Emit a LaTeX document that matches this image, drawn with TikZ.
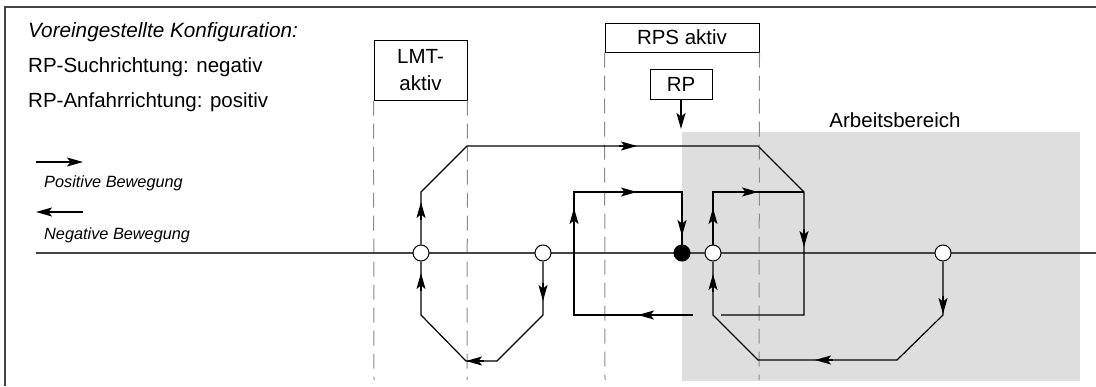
\documentclass[tikz,border=0pt]{standalone}
\usepackage{fontspec}
\setmainfont{Liberation Sans}
\usetikzlibrary{arrows.meta}
\definecolor{area}{HTML}{DEDEDE}
\definecolor{framegray}{HTML}{444444}
\definecolor{guidegray}{HTML}{8A8A8A}
\tikzset{
  big/.style={font=\fontsize{20.5}{27}\selectfont},
  small/.style={font=\fontsize{16.3}{19}\selectfont\itshape},
  txt/.style={anchor=west,inner sep=0pt},
  labelbox/.style={draw,line width=1pt,inner sep=0pt,align=center,big},
  guide/.style={draw=guidegray,line width=1pt,dash pattern=on 15pt off 8pt},
  loopline/.style={line width=1.2pt,line join=miter},
  arrowmark/.style={line width=1.2pt,-{Stealth[length=16pt,width=9pt,inset=3.5pt]}},
  pnt/.style={circle,draw,line width=1pt,fill=white,minimum size=16pt,inner sep=0pt},
  pntfull/.style={pnt,fill=black}
}
\begin{document}
\begin{tikzpicture}[x=1pt,y=-1pt]
\useasboundingbox (0,0) rectangle (1096,386);
% working area
\fill[area] (682,132) rectangle (1080,381);
\node[big,inner sep=0pt] (ab) at (895,120) {Arbeitsbereich};
% frame
\draw[framegray,line width=1.5pt] (5,386) -- (5,7) -- (1096,7);
% header texts
\node[txt,font=\fontsize{20.7}{27}\selectfont\itshape] (h1) at (28,32) {Voreingestellte Konfiguration:};
\node[txt,big] (h2) at (28,67) {RP-Suchrichtung: negativ};
\node[txt,big] (h3) at (28,102) {RP-Anfahrrichtung: positiv};
% legend
\coordinate (lp1) at (36,162); \coordinate (lp2) at (83,162);
\draw[arrowmark] (lp1) -- (lp2);
\node[txt,small] (lpt) at (44,183) {Positive Bewegung};
\coordinate (ln1) at (83,212); \coordinate (ln2) at (36,212);
\draw[arrowmark] (ln1) -- (ln2);
\node[txt,small] (lnt) at (44,235) {Negative Bewegung};
% boxes
\node[labelbox,minimum width=93pt,minimum height=60pt] (lmt) at (420.5,70) {LMT-\\aktiv};
\node[labelbox,minimum width=154pt,minimum height=29pt] (rps) at (682,37.5) {RPS aktiv};
\node[labelbox,minimum width=62pt,minimum height=30pt] (rpb) at (681,84) {RP};
% guide lines
\draw[guide] (lmt.south west) -- (374,380);
\draw[guide] (lmt.south east) -- (467,380);
\draw[guide] (rps.south west) -- (605,380);
\draw[guide] (rps.south east) -- (759,380);
% RP arrow
\coordinate (rpt) at (681,129);
\draw[arrowmark] (rpb.south) -- (rpt);
% axis
\draw[framegray,line width=1.2pt] (36,253) -- (1096,253);
% points
\node[pnt] (c1) at (421,253) {};
\node[pnt] (c2) at (543,253) {};
\node[pntfull] (rp) at (682,253) {};
\node[pnt] (c3) at (713,253) {};
\node[pnt] (c4) at (943,253) {};
% paths
\draw[loopline] (c1) -- (421,192) -- (467,146) -- (758,146) -- (804,192) -- (804,315) -- (721,315);
\draw[loopline] (693,315) -- (574,315) -- (574,192) -- (682,192) -- (rp);
\draw[loopline] (c3) -- (713,192) -- (804,192);
\draw[loopline] (c4) -- (943,315) -- (897,360) -- (758,360) -- (713,315) -- (c3);
\draw[loopline] (c2) -- (543,315) -- (497,361) -- (466,361) -- (421,315) -- (c1);
% arrowheads
\draw[arrowmark] (421,220) -- (421,202);
\draw[arrowmark] (619,146) -- (637,146);
\draw[arrowmark] (804,229) -- (804,247);
\draw[arrowmark] (656,315) -- (638,315);
\draw[arrowmark] (574,226) -- (574,208);
\draw[arrowmark] (619,192) -- (637,192);
\draw[arrowmark] (682,218) -- (682,236);
\draw[arrowmark] (713,226) -- (713,208);
\draw[arrowmark] (740,192) -- (758,192);
\draw[arrowmark] (943,296) -- (943,314);
\draw[arrowmark] (833,360) -- (815,360);
\draw[arrowmark] (713,292) -- (713,274);
\draw[arrowmark] (543,283) -- (543,301);
\draw[arrowmark] (484,361) -- (466,361);
\draw[arrowmark] (421,291) -- (421,273);
\end{tikzpicture}
\end{document}
